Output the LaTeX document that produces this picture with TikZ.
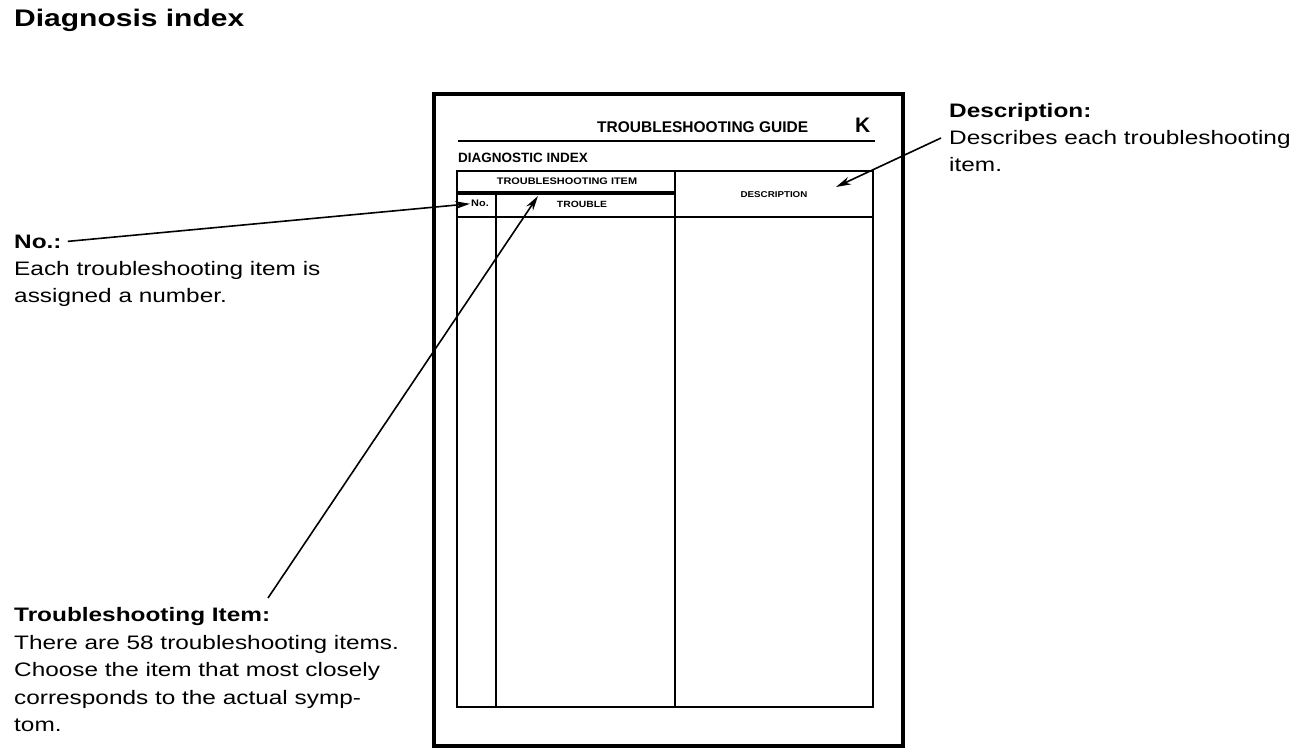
\documentclass[tikz,border=0pt]{standalone}
\usepackage{fontspec}
\setmainfont[FakeStretch=1.25]{Liberation Sans}
\newfontfamily\tabfont{Liberation Sans}
\newfontfamily\tabwide[FakeStretch=1.15]{Liberation Sans}
\usetikzlibrary{arrows.meta}
\begin{document}
\begin{tikzpicture}[x=1pt,y=-1pt,
  lbl/.style={anchor=base west,inner sep=0pt,font=\fontsize{19.5}{24}\selectfont},
  lblhead/.style={lbl,font=\fontsize{19.5}{24}\selectfont\bfseries},
  tabtxt/.style={anchor=base,inner sep=1pt,font=\tabwide\bfseries\fontsize{9.5}{11}\selectfont},
  framel/.style={line width=4pt},
  tabl/.style={line width=2.6pt},
  pointer/.style={line width=1.6pt,-{Stealth[length=15pt,width=8pt]}}]
\useasboundingbox (0,0) rectangle (1312,754);
% title
\node[anchor=base west,inner sep=0pt,font=\fontsize{24}{28}\selectfont\bfseries] (title) at (14,27) {Diagnosis index};
% page frame
\draw[framel] (434,94) rectangle (903,746);
\node[anchor=base west,inner sep=0pt,font=\tabfont\bfseries\fontsize{15.5}{18}\selectfont] (guide) at (597,133) {TROUBLESHOOTING GUIDE};
\node[anchor=base west,inner sep=0pt,font=\tabfont\bfseries\fontsize{21}{24}\selectfont] (kk) at (855,133) {K};
\draw[line width=2pt] (458,141) -- (875,141);
\node[anchor=base west,inner sep=0pt,font=\tabfont\bfseries\fontsize{13.5}{16}\selectfont] (diag) at (458,163) {DIAGNOSTIC INDEX};
% table
\draw[tabl] (457,171) rectangle (873,707);
\draw[tabl] (675,171) -- (675,707);
\draw[line width=3.4pt] (457,193) -- (675,193);
\draw[tabl] (496,193) -- (496,707);
\draw[tabl] (457,217) -- (873,217);
\node[tabtxt] (tsitem) at (567,185) {TROUBLESHOOTING ITEM};
\node[tabtxt] (tno) at (480,207) {No.};
\node[tabtxt,font=\tabwide\bfseries\fontsize{9}{11}\selectfont] (ttrouble) at (582,208) {TROUBLE};
\node[tabtxt,font=\tabwide\bfseries\fontsize{8.5}{10}\selectfont] (tdesc) at (774,198) {DESCRIPTION};
% left labels
\node[lblhead,inner xsep=0pt] (nohead) at (14,248) {No.:};
\node[lbl] (no1) at (14,275) {Each troubleshooting item is};
\node[lbl] (no2) at (14,302) {assigned a number.};
\node[lblhead] (tihead) at (14,621) {Troubleshooting Item:};
\node[lbl] (ti1) at (14,649) {There are 58 troubleshooting items.};
\node[lbl] (ti2) at (14,676.5) {Choose the item that most closely};
\node[lbl] (ti3) at (14,704) {corresponds to the actual symp-};
\node[lbl] (ti4) at (14,731.5) {tom.};
% right labels
\node[lblhead] (dhead) at (949,118) {Description:};
\node[lbl] (d1) at (949,145) {Describes each troubleshooting};
\node[lbl] (d2) at (949,172) {item.};
% pointer ends
\coordinate (nostart) at ([xshift=6pt]nohead.east);
\coordinate (tistart) at (268,598);
\coordinate (titip) at (538,196);
\coordinate (dstart) at (941,138);
\coordinate (dtip) at (836,187);
\draw[pointer] (nostart) -- (tno.west);
\draw[pointer] (tistart) -- (titip);
\draw[pointer] (dstart) -- (dtip);
\end{tikzpicture}
\end{document}
